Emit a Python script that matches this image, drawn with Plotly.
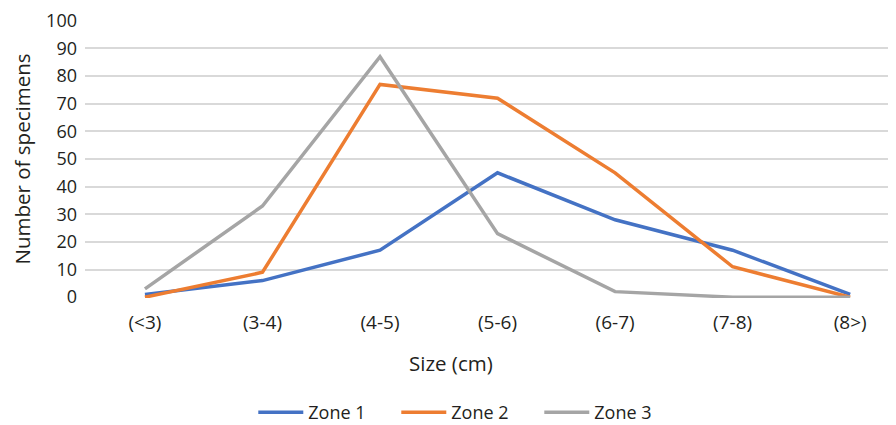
import plotly.graph_objects as go

categories = ["(<3)", "(3-4)", "(4-5)", "(5-6)", "(6-7)", "(7-8)", "(8>)"]
zone1 = [1, 6, 17, 45, 28, 17, 1]
zone2 = [0, 9, 77, 72, 45, 11, 0]
zone3 = [3, 33, 87, 23, 2, 0, 0]
y_ticks = [0, 10, 20, 30, 40, 50, 60, 70, 80, 90, 100]

series = [("Zone 1", zone1, "#4472C4"), ("Zone 2", zone2, "#ED7D31"), ("Zone 3", zone3, "#A5A5A5")]

FONT = "Open Sans"
fig = go.Figure()
for name, vals, col in series:
    fig.add_trace(go.Scatter(x=list(range(len(categories))), y=vals, name=name, mode="lines",
                             line=dict(color=col, width=3.5)))

# page has an 8px body margin, so the figure is 888x417 placed at (8, 8)
fig.update_layout(
    width=888, height=417,
    margin=dict(l=77, r=0, t=12, b=127, autoexpand=False),
    paper_bgcolor="white", plot_bgcolor="white",
    font=dict(family=FONT, size=18, color="#231F20"),
    showlegend=True,
    legend=dict(orientation="h", x=0.472, xanchor="center", yref="container", y=0.03, yanchor="middle",
                font=dict(size=18), itemwidth=45, tracegroupgap=0,
                entrywidth=83, entrywidthmode="pixels"),
    xaxis=dict(range=[-0.51, 6.39], tickmode="array", tickvals=list(range(len(categories))),
               ticktext=categories, showgrid=False, zeroline=False, showline=False,
               ticks="", tickfont=dict(size=19), ticklabelstandoff=11),
    yaxis=dict(range=[-0.3, 100.3], tickmode="array", tickvals=y_ticks, showgrid=True,
               gridcolor="#D9D9D9", gridwidth=1.5, zeroline=False, showline=False,
               tickfont=dict(size=18), ticks="", ticklabelstandoff=7, automargin=False,
               title=dict(text="Number of specimens", font=dict(size=20.5), standoff=12)),
    annotations=[dict(text="Size (cm)", xref="paper", yref="paper", x=0.451, y=-0.234,
                      xanchor="center", yanchor="middle", showarrow=False,
                      font=dict(size=20.5, family=FONT))],
)
fig.write_html("out.html")
